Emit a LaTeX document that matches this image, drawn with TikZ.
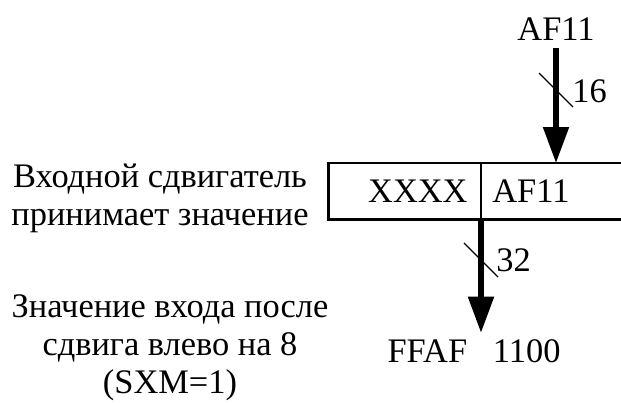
\documentclass[tikz,border=0pt]{standalone}
\usepackage{fontspec}
\setmainfont{Liberation Serif}
\usetikzlibrary{arrows.meta,positioning,calc}

\begin{document}
\begin{tikzpicture}[
  x=0.5pt,y=-0.5pt,
  every node/.style={font=\fontsize{17.2}{19}\selectfont,inner sep=0pt},
  reg/.style={minimum height=28pt},
  frame/.style={line width=1.4pt},
  bus/.style={-{Triangle[length=18pt,width=12.5pt]},line width=2.6pt},
  tick/.style={line width=0.6pt}
]
\useasboundingbox (0,0) rectangle (621,402);
\clip (0,0) rectangle (621,402);
% shifter register
\node[reg,anchor=north east,inner xsep=6.5pt,text width=63pt,align=right] (hi) at (481,163) {XXXX};
\node[reg,anchor=north west,inner xsep=5.5pt,text width=80pt,align=left] (lo) at (481,163) {AF11};
\draw[frame] (hi.north west) rectangle (lo.south east);
\draw[tick] (hi.north east) -- (hi.south east);
% input
\node[anchor=base,inner ysep=4pt] (src) at (556,40) {AF11};
\draw[bus] (src.south) -- (src.south |- lo.north);
\coordinate (t16) at (556,90);
\draw[tick] ($(t16)+(-17,-17)$) -- ($(t16)+(17,17)$);
\node[anchor=base west] (w16) at (572,102) {16};
% output
\node[anchor=base,inner ysep=3pt] (dst) at (474,362) {FFAF\hspace{0.75em}1100};
\draw[bus] (hi.south east) -- (hi.south east |- dst.north);
\coordinate (t32) at (481,260);
\draw[tick] ($(t32)+(-17,-17)$) -- ($(t32)+(17,17)$);
\node[anchor=base west] (w32) at (496,271) {32};
% captions
\node[align=center,anchor=base] (capin) at (160,225) {Входной сдвигатель\\принимает значение};
\node[align=center,anchor=base] (capout) at (170,393) {Значение входа после\\сдвига влево на 8\\(SXM=1)};
\end{tikzpicture}
\end{document}
